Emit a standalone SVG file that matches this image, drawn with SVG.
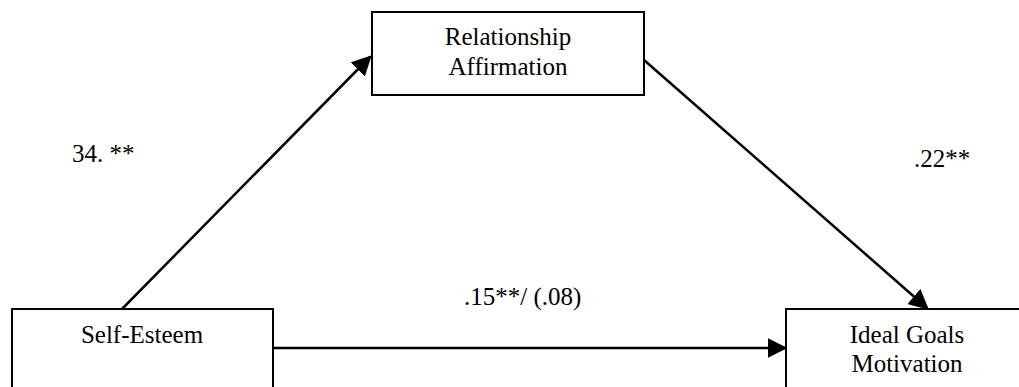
<svg xmlns="http://www.w3.org/2000/svg" width="1019" height="387" viewBox="0 0 1019 387">
<defs>
<style>
.box{fill:#fff;stroke:#000;stroke-width:2}
text{font-family:'Liberation Serif','Times New Roman',Times,serif;font-size:25px;fill:#000}
.c{text-anchor:middle}
.ln{stroke:#000;stroke-width:2.5;fill:none}
</style>
<marker id="ah" markerWidth="8" markerHeight="8" refX="7" refY="4" orient="auto" markerUnits="strokeWidth">
<path d="M0,0 L8,4 L0,8 Z" fill="#000"/>
</marker>
</defs>
<rect width="1019" height="387" fill="#fff"/>
<g id="connectors">
<line class="ln" x1="122" y1="309" x2="370" y2="57" marker-end="url(#ah)"/>
<line class="ln" x1="644" y1="60" x2="927" y2="308" marker-end="url(#ah)"/>
<line class="ln" x1="273" y1="348" x2="785" y2="348" marker-end="url(#ah)"/>
</g>
<g id="relationship-affirmation" font-family="Liberation Serif">
<rect class="box" x="372" y="12" width="272" height="83"/>
<text class="c" x="508" y="45">Relationship</text>
<text class="c" x="508" y="75">Affirmation</text>
</g>
<g id="self-esteem" font-family="Liberation Serif">
<rect class="box" x="12" y="309" width="261" height="90"/>
<text class="c" x="142" y="343">Self-Esteem</text>
</g>
<g id="ideal-goals-motivation" font-family="Liberation Serif">
<rect class="box" x="786" y="309" width="250" height="90"/>
<text class="c" x="907" y="343">Ideal Goals</text>
<text class="c" x="907" y="372">Motivation</text>
</g>
<g id="labels" font-family="Liberation Serif">
<text x="72" y="162">34. **</text>
<text x="914" y="167">.22**</text>
<text x="464" y="305">.15**/ (.08)</text>
</g>
</svg>
